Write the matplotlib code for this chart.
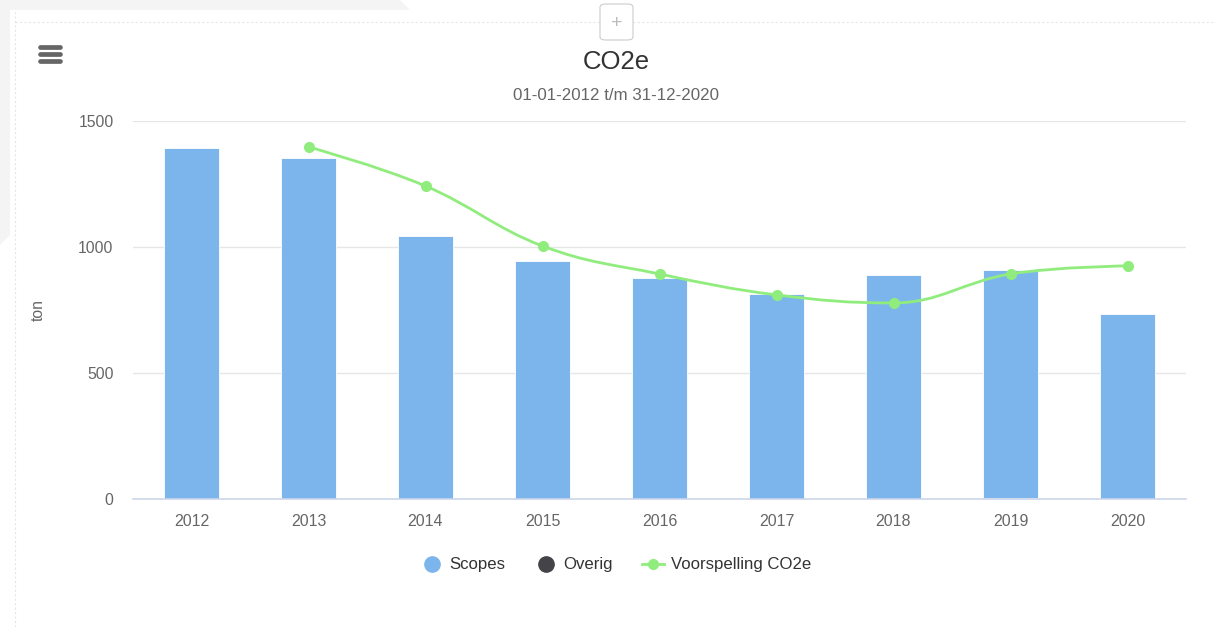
import numpy as np
import matplotlib.pyplot as plt
from matplotlib.path import Path
from matplotlib.patches import PathPatch, FancyBboxPatch, Rectangle, Polygon
from matplotlib.lines import Line2D

plt.rcParams['font.family'] = ['Liberation Sans', 'DejaVu Sans']

# Data
jaren = ['2012', '2013', '2014', '2015', '2016', '2017', '2018', '2019', '2020']
scopes = [1393, 1353, 1044, 944, 877, 813, 889, 905, 734]
overig = [0, 0, 0, 0, 0, 0, 0, 4, 0]
voorspelling_jaren = ['2013', '2014', '2015', '2016', '2017', '2018', '2019', '2020']
voorspelling = [1397, 1242, 1004, 893, 810, 778, 893, 925]

blauw = '#7cb5ec'
donker = '#434348'
groen = '#90ed7d'


def spline_pad(xs, ys, smoothing=1.5):
    # Highcharts-achtige spline met bezier controlepunten
    n = len(xs)
    verts = [(xs[0], ys[0])]
    codes = [Path.MOVETO]
    conts = []
    for i in range(n):
        if i == 0 or i == n - 1:
            conts.append(((xs[i], ys[i]), (xs[i], ys[i])))
            continue
        d = smoothing + 1
        lx = (smoothing * xs[i] + xs[i - 1]) / d
        ly = (smoothing * ys[i] + ys[i - 1]) / d
        rx = (smoothing * xs[i] + xs[i + 1]) / d
        ry = (smoothing * ys[i] + ys[i + 1]) / d
        corr = ((ry - ly) * (rx - xs[i])) / (rx - lx) + ys[i] - ry
        ly += corr
        ry += corr
        if ly > max(ys[i - 1], ys[i]):
            ly = max(ys[i - 1], ys[i])
            ry = 2 * ys[i] - ly
        elif ly < min(ys[i - 1], ys[i]):
            ly = min(ys[i - 1], ys[i])
            ry = 2 * ys[i] - ly
        if ry > max(ys[i + 1], ys[i]):
            ry = max(ys[i + 1], ys[i])
            ly = 2 * ys[i] - ry
        elif ry < min(ys[i + 1], ys[i]):
            ry = min(ys[i + 1], ys[i])
            ly = 2 * ys[i] - ry
        conts.append(((lx, ly), (rx, ry)))
    for i in range(1, n):
        verts += [conts[i - 1][1], conts[i][0], (xs[i], ys[i])]
        codes += [Path.CURVE4] * 3
    return Path(verts, codes)


fig = plt.figure(figsize=(12.15, 6.27), dpi=100)
fig.patch.set_facecolor('white')

# achtergrond / paneel
fig.patches.append(Polygon([(0, 1), (400 / 1215, 1), (410 / 1215, 1 - 10 / 627),
                            (0.0, 1 - 10 / 627)], closed=True, transform=fig.transFigure,
                           facecolor='#f4f4f4', edgecolor='none', zorder=0))
fig.patches.append(Polygon([(0, 1 - 10 / 627), (10 / 1215, 1 - 10 / 627),
                            (10 / 1215, 1 - 235 / 627), (0, 1 - 245 / 627)], closed=True,
                           transform=fig.transFigure, facecolor='#f4f4f4',
                           edgecolor='none', zorder=0))
fig.add_artist(Line2D([15 / 1215, 15 / 1215], [0, 1 - 12 / 627], transform=fig.transFigure,
                      color='#e6e6e6', lw=0.8, ls=(0, (2, 2))))
fig.add_artist(Line2D([15 / 1215, 1], [1 - 22 / 627, 1 - 22 / 627], transform=fig.transFigure,
                      color='#e6e6e6', lw=0.8, ls=(0, (2, 2))))
fig.patches.append(FancyBboxPatch((600 / 1215, 1 - 40 / 627), 33 / 1215, 36 / 627,
                                  boxstyle='round,pad=0,rounding_size=0.005',
                                  transform=fig.transFigure, facecolor='white',
                                  edgecolor='#cccccc', lw=0.8, zorder=2))
fig.text(616.5 / 1215, 1 - 24 / 627, '+', ha='center', va='center', fontsize=14,
         color='#bbbbbb', zorder=3)

# menu icoon
for yy in [47, 54, 61]:
    fig.add_artist(Line2D([39.5 / 1215, 59.5 / 1215], [1 - yy / 627, 1 - yy / 627],
                          transform=fig.transFigure, color='#666666', lw=3.4,
                          solid_capstyle='round'))

fig.text(616 / 1215, 1 - 62 / 627, 'CO2e', ha='center', va='center', fontsize=18.5, color='#333333')
fig.text(616 / 1215, 1 - 95 / 627, '01-01-2012 t/m 31-12-2020', ha='center', va='center',
         fontsize=12.2, color='#666666')

ax = fig.add_axes([133 / 1215, 128 / 627, 1053 / 1215, 378 / 627])
x = np.arange(len(jaren))
breedte = 0.47
ax.bar(x, overig, width=breedte, color=donker, edgecolor='white', linewidth=0.6, zorder=2)
ax.bar(x, scopes, width=breedte, bottom=overig, color=blauw, edgecolor='white', linewidth=0.6,
       zorder=2)

vx = [jaren.index(j) for j in voorspelling_jaren]
pad = spline_pad(vx, voorspelling)
ax.add_patch(PathPatch(pad, facecolor='none', edgecolor=groen, lw=2, zorder=3))
ax.plot(vx, voorspelling, 'o', color=groen, ms=7, zorder=4)

ax.set_xlim(-0.5, len(jaren) - 0.5)
ax.set_ylim(0, 1500)
ax.set_yticks([0, 500, 1000, 1500])
ax.set_xticks(x)
ax.set_xticklabels(jaren)
ax.grid(axis='y', color='#e6e6e6', lw=1)
ax.set_axisbelow(True)
for s in ['top', 'right', 'left']:
    ax.spines[s].set_visible(False)
ax.spines['bottom'].set_color('#ccd6eb')
ax.spines['bottom'].set_linewidth(1.2)
ax.tick_params(axis='y', length=0, labelsize=11.3, labelcolor='#666666', pad=14)
ax.tick_params(axis='x', length=0, labelsize=11.5, labelcolor='#666666', pad=10.5)
ax.set_ylabel('ton', color='#666666', fontsize=11.3)
ax.yaxis.set_label_coords(-87 / 1053, 0.5)

handles = [
    Line2D([], [], marker='o', ls='none', color=blauw, ms=11),
    Line2D([], [], marker='o', ls='none', color=donker, ms=11),
    Line2D([], [], marker='o', color=groen, lw=2, ms=7),
]
fig.legend(handles, ['Scopes', 'Overig', 'Voorspelling CO2e'], loc='center',
           bbox_to_anchor=(616 / 1215, 1 - 565 / 627), ncol=3, frameon=False,
           fontsize=12.1, labelcolor='#333333', handlelength=1.3, columnspacing=1.75,
           handletextpad=0.4)

plt.savefig('out.png', dpi=100)
